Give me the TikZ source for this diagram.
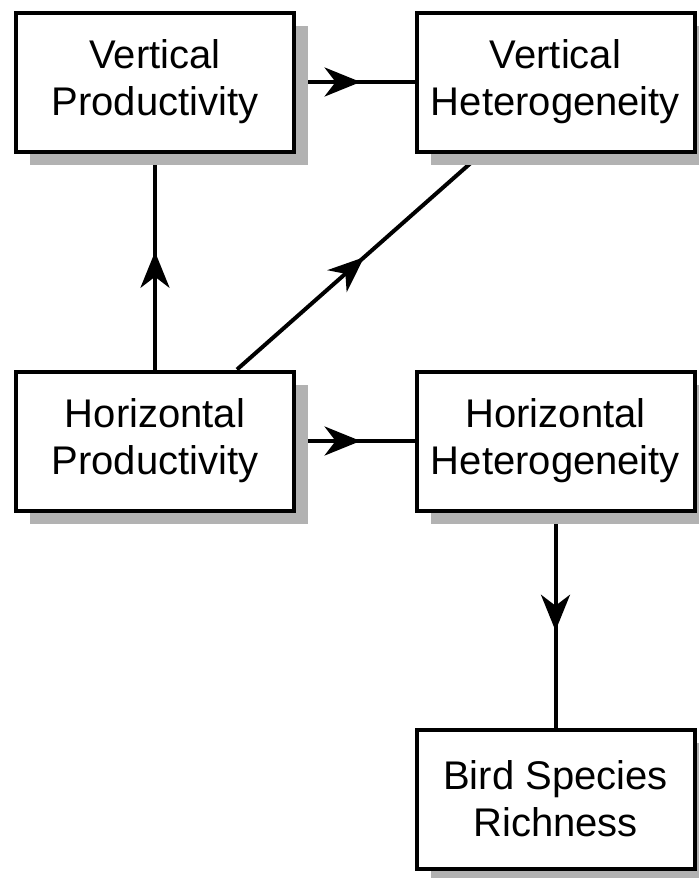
\documentclass[tikz,border=0pt]{standalone}
\usepackage{fontspec}
\setmainfont{Liberation Sans}
\usetikzlibrary{arrows.meta,decorations.markings,shadows}
\pgfdeclarelayer{background}
\pgfsetlayers{background,main}

\begin{document}
\begin{tikzpicture}[x=0.5pt,y=-0.5pt,
		box/.style={draw,line width=2pt,fill=white,inner sep=0pt,
			minimum width=139pt,minimum height=69.5pt,align=center,
			font=\fontsize{20}{23.5}\selectfont,
			drop shadow={shadow xshift=7pt,shadow yshift=-6.5pt,fill=black!30,opacity=1}},
		link/.style={line width=2pt,postaction={decorate},
			decoration={markings,mark=at position #1 with {\arrow{Stealth[length=18pt,width=14.5pt,inset=5.5pt]}}}}]
	\useasboundingbox (0,0) rectangle (698,878);

	\node[box] (vp) at (155,82) {Vertical\\Productivity};
	\node[box] (vh) at (555.5,82) {Vertical\\Heterogeneity};
	\node[box] (hp) at (155,441) {Horizontal\\Productivity};
	\node[box] (hh) at (555.5,441) {Horizontal\\Heterogeneity};
	\node[box] (bsr) at (555.5,799) {Bird Species\\Richness};

	% connectors sit behind the boxes and their shadows
	\begin{pgfonlayer}{background}
		\draw[link=0.545] (vp) -- (vh);
		\draw[link=0.545] (hp) -- (vp);
		\draw[link=0.545] (hp) -- (hh);
		\draw[link=0.55] (hh) -- (bsr);
		\draw[link=0.52] ([xshift=41pt]hp.north) -- ([xshift=-37pt]vh.south);
	\end{pgfonlayer}
\end{tikzpicture}
\end{document}
